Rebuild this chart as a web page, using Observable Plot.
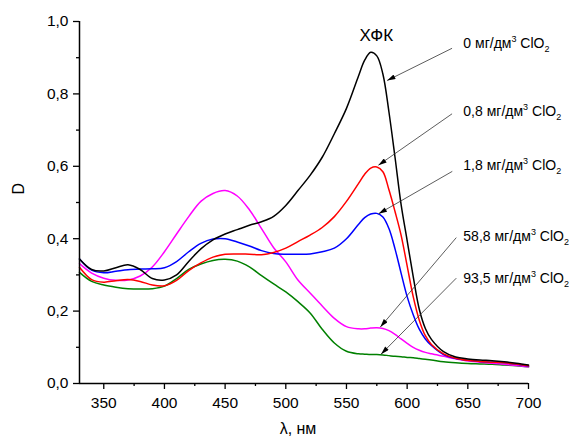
<!DOCTYPE html>
<html><head><meta charset="utf-8">
<script src="https://cdn.jsdelivr.net/npm/d3@7"></script>
<script src="https://cdn.jsdelivr.net/npm/@observablehq/plot@0.6"></script>
<style>body{margin:0;background:#fff;} svg{display:block;}</style>
</head><body><div id="chart"></div>
<script>
const wavelengths = [330,340,350,360,370,380,390,400,410,420,430,440,450,460,470,480,490,500,510,520,530,540,550,560,565,570,575,580,585,590,595,600,605,610,615,620,630,640,650,660,670,680,690,700];
const d_0   = [0.344,0.315,0.311,0.320,0.328,0.315,0.290,0.286,0.300,0.337,0.372,0.397,0.413,0.425,0.437,0.447,0.462,0.492,0.533,0.575,0.625,0.690,0.760,0.850,0.893,0.915,0.905,0.855,0.750,0.625,0.495,0.395,0.295,0.205,0.152,0.122,0.088,0.073,0.068,0.065,0.063,0.060,0.056,0.051];
const d_08  = [0.321,0.287,0.280,0.284,0.287,0.282,0.272,0.270,0.285,0.312,0.333,0.349,0.357,0.358,0.357,0.356,0.362,0.374,0.392,0.410,0.431,0.461,0.503,0.553,0.578,0.595,0.598,0.585,0.535,0.475,0.410,0.325,0.240,0.175,0.132,0.108,0.082,0.070,0.064,0.061,0.059,0.057,0.054,0.049];
const d_18  = [0.344,0.313,0.306,0.310,0.314,0.316,0.317,0.320,0.337,0.364,0.387,0.399,0.400,0.391,0.380,0.367,0.359,0.357,0.357,0.358,0.364,0.374,0.400,0.440,0.458,0.468,0.470,0.460,0.428,0.372,0.305,0.240,0.190,0.150,0.123,0.105,0.080,0.069,0.064,0.061,0.059,0.057,0.053,0.048];
const d_588 = [0.331,0.305,0.291,0.285,0.286,0.297,0.322,0.364,0.413,0.461,0.503,0.525,0.533,0.518,0.480,0.428,0.375,0.336,0.286,0.250,0.214,0.180,0.157,0.151,0.151,0.153,0.154,0.152,0.146,0.136,0.123,0.111,0.100,0.092,0.086,0.082,0.075,0.068,0.062,0.059,0.056,0.053,0.050,0.046];
const d_935 = [0.307,0.282,0.272,0.266,0.262,0.261,0.262,0.269,0.290,0.315,0.330,0.340,0.343,0.338,0.322,0.298,0.275,0.253,0.226,0.195,0.150,0.112,0.089,0.082,0.081,0.080,0.080,0.079,0.077,0.075,0.074,0.072,0.071,0.069,0.067,0.065,0.060,0.057,0.055,0.054,0.053,0.051,0.049,0.046];

const seriesNames  = ["0","0,8","1,8","58,8","93,5"];
const seriesColors = ["#000000","#ff0000","#0000ff","#ff00ff","#008000"];
const seriesValues = [d_0, d_08, d_18, d_588, d_935];
const drawOrder = [4, 3, 2, 1, 0];

const xTicks = [350,400,450,500,550,600,650,700];
const xMinor = [375,425,475,525,575,625,675];
const yTicks = [0,0.2,0.4,0.6,0.8,1.0];
const yMinor = [0.1,0.3,0.5,0.7,0.9];

// annotation arrows & labels (data units)
const arrowX1 = [637.0,637.0,637.2,640.5,640.5];
const arrowY1 = [0.926,0.745,0.586,0.403,0.291];
const arrowX2 = [583.5,576.3,576.5,577.9,578.5];
const arrowY2 = [0.837,0.603,0.469,0.156,0.081];
const labelX  = [646.3,646.3,646.3,646.3,646.3];
const labelY  = [0.938,0.750,0.601,0.405,0.290];
const peakLabel = "ХФК";
const peakX = 574.6, peakY = 0.961;
const xTitle = "λ, нм";
const yTitle = "D";

const rows = [];
seriesNames.forEach((s, k) => wavelengths.forEach((w, i) => rows.push({series: s, lambda: w, D: seriesValues[k][i]})));
const annots = seriesNames.map((s, i) => ({series: s, x1: arrowX1[i], y1: arrowY1[i], x2: arrowX2[i], y2: arrowY2[i], lx: labelX[i], ly: labelY[i]}));

const font = "'Liberation Sans', Arial, sans-serif";
const lineMarks = drawOrder.map(k => Plot.line(rows.filter(r => r.series === seriesNames[k]), {
  x: "lambda", y: "D", stroke: seriesColors[k], strokeWidth: 1.5, curve: "catmull-rom"
}));

const plot = Plot.plot({
  width: 569, height: 441,
  marginLeft: 79, marginRight: 41, marginTop: 21, marginBottom: 58,
  style: {fontFamily: font, fontSize: "15.5px", background: "#fff", color: "#000"},
  x: {domain: [330, 700]},
  y: {domain: [0, 1]},
  marks: [
    Plot.axisX({ticks: xTicks, tickSize: 6, tickPadding: 7, label: null, strokeWidth: 1.3}),
    Plot.axisX({ticks: xMinor, tickSize: 3, tickFormat: () => "", label: null, strokeWidth: 1.3}),
    Plot.axisY({ticks: yTicks, tickSize: 6, tickPadding: 5, label: null, strokeWidth: 1.3,
      tickFormat: d => d.toFixed(1).replace(".", ",")}),
    Plot.axisY({ticks: yMinor, tickSize: 3, tickFormat: () => "", label: null, strokeWidth: 1.3}),
    ...lineMarks,
    Plot.ruleY([0], {strokeWidth: 1.5}),
    Plot.ruleX([330], {strokeWidth: 1.5}),
    Plot.link(annots, {x1: "x1", y1: "y1", x2: "x2", y2: "y2", stroke: "#333", strokeWidth: 0.8, ariaDescription: "ann-arrow"}),
    Plot.text(annots, {x: "lx", y: "ly", text: d => d.series, textAnchor: "start", fontSize: 14, fill: "#000", ariaDescription: "ann-label"}),
    Plot.text([peakLabel], {x: () => peakX, y: () => peakY, text: d => d, fontSize: 17, fill: "#000"}),
    Plot.text([xTitle], {frameAnchor: "bottom", dx: -6, dy: 50, text: d => d, fontSize: 16, fill: "#000"}),
    Plot.text([yTitle], {frameAnchor: "left", dx: -61, dy: -8, rotate: -90, text: d => d, fontSize: 16, fill: "#000"})
  ]
});
document.getElementById("chart").appendChild(plot);

const svg = d3.select(plot);
let labelTexts = svg.selectAll('g[aria-description="ann-label"] text');
if (labelTexts.empty()) {
  labelTexts = svg.selectAll('g[aria-label="text"] text').filter(function() {
    return seriesNames.includes(this.textContent);
  });
}
labelTexts.each(function(_, i) {
  const t = d3.select(this);
  const name = this.textContent;
  t.text(null);
  t.append("tspan").text(name + " мг/дм");
  t.append("tspan").attr("font-size", 9).attr("dy", -6).text("3");
  t.append("tspan").attr("dy", 6).text(" ClO");
  t.append("tspan").attr("font-size", 9).attr("dy", 4).text("2");
});
const defs = svg.append("defs");
defs.append("marker").attr("id", "ah").attr("viewBox", "0 0 10 6").attr("refX", 10).attr("refY", 3)
  .attr("markerWidth", 10).attr("markerHeight", 5).attr("markerUnits", "userSpaceOnUse").attr("orient", "auto")
  .append("path").attr("d", "M0,0L10,3L0,6Z").attr("fill", "#000");
let arrowPaths = svg.selectAll('g[aria-description="ann-arrow"] path');
if (arrowPaths.empty()) arrowPaths = svg.selectAll('g[aria-label="link"] path');
arrowPaths.attr("marker-end", "url(#ah)");
</script>
</body></html>
